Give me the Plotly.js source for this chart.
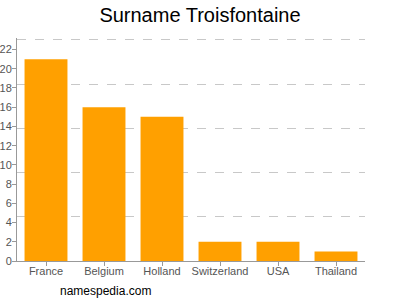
<!DOCTYPE html>
<html><head><meta charset="utf-8">
<script src="https://cdn.plot.ly/plotly-3.0.1.min.js"></script>
<style>html,body{margin:0;padding:0;background:#fff}#c{width:400px;height:300px}</style>
</head><body><div id="c"></div>
<script>
const countries = ["France","Belgium","Holland","Switzerland","USA","Thailand"];
const counts = [21,16,15,2,2,1];
const yTicks = [0,2,4,6,8,10,12,14,16,18,20,22];
const gridTicks = [4.6,9.2,13.8,18.4,23];

const data = [{
  type: "bar", x: countries, y: counts,
  marker: {color: "#ffa000"}, hoverinfo: "none"
}];
const layout = {
  width: 400, height: 300,
  margin: {l: 17, r: 35, t: 38, b: 39},
  paper_bgcolor: "#fff", plot_bgcolor: "#fff",
  bargap: 0.26,
  showlegend: false,
  title: {text: "Surname Troisfontaine", x: 0.5, xanchor: "center", y: 0.95, yanchor: "middle",
          font: {family: "Liberation Sans, Arial, sans-serif", size: 20, color: "#000"}},
  font: {family: "Liberation Sans, Arial, sans-serif", size: 11, color: "#555"},
  xaxis: {showline: true, linecolor: "#999", linewidth: 1, ticks: "outside", ticklen: 4,
          tickcolor: "#999", showgrid: false, ticklabelstandoff: -4, tickfont: {size: 11, color: "#555"}},
  yaxis: {range: [0, 23.2], tickvals: yTicks, ticktext: yTicks.map(String), showgrid: false,
          zeroline: false, showline: true, linecolor: "#999", ticks: "outside", ticklen: 4,
          tickcolor: "#999", ticklabelstandoff: -2, tickfont: {size: 11, color: "#555"}},
  yaxis2: {range: [0, 23.2], overlaying: "y", tickvals: gridTicks, showticklabels: false,
           showgrid: true, gridcolor: "#c8c8c8", griddash: "dash", gridwidth: 1,
           zeroline: false, showline: false, ticks: ""},
  annotations: [{text: "namespedia.com", xref: "paper", yref: "paper", x: 0.117, y: -0.136,
                 xanchor: "left", yanchor: "middle", showarrow: false,
                 font: {family: "Liberation Sans, Arial, sans-serif", size: 12, color: "#000"}}]
};
data.push({type: "scatter", x: [countries[0]], y: [null], yaxis: "y2", hoverinfo: "none", showlegend: false});
Plotly.newPlot("c", data, layout, {displayModeBar: false, staticPlot: true});
</script></body></html>
